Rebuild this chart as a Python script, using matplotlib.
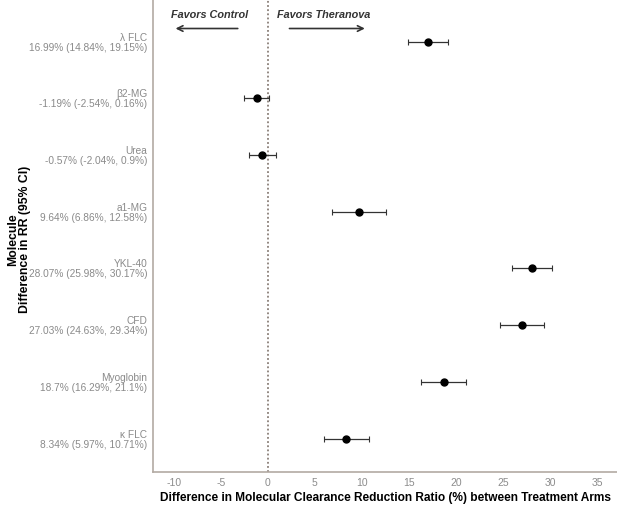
import matplotlib
matplotlib.use("Agg")
import matplotlib.pyplot as plt

plt.rcParams['font.family'] = ['Liberation Sans', 'DejaVu Sans']

molecules = ["λ FLC", "β2-MG", "Urea", "a1-MG", "YKL-40", "CFD", "Myoglobin", "κ FLC"]
est = [16.99, -1.19, -0.57, 9.64, 28.07, 27.03, 18.7, 8.34]
lo = [14.84, -2.54, -2.04, 6.86, 25.98, 24.63, 16.29, 5.97]
hi = [19.15, 0.16, 0.9, 12.58, 30.17, 29.34, 21.1, 10.71]
xticks = [-10, -5, 0, 5, 10, 15, 20, 25, 30, 35]

fig = plt.figure(figsize=(6.17, 5.06), dpi=100)
ax = fig.add_axes([0.248, 0.066, 0.752, 0.934])

n = len(molecules)
for i, (e, l, h) in enumerate(zip(est, lo, hi)):
    ax.errorbar(e, i, xerr=[[e - l], [h - e]], fmt='o', color='black',
                ecolor='#333333', elinewidth=0.9, capsize=2.5, capthick=0.8,
                markersize=5, zorder=3)

ax.axvline(0, color='#8a7f78', linestyle=(0, (1, 1.3)), linewidth=1.3, zorder=1)

ax.set_xlim(-12.2, 37.1)
ax.set_ylim(n - 1 + 0.58, -0.75)
ax.set_xticks(xticks)
ax.set_xticklabels([str(t) for t in xticks], color='#8c8c8c', fontsize=7.5)
ax.tick_params(axis='x', length=0, pad=4)
ax.set_yticks([])
for s in ['top', 'right']:
    ax.spines[s].set_visible(False)
for s in ['left', 'bottom']:
    ax.spines[s].set_color('#b3aaa3')
    ax.spines[s].set_linewidth(1.2)

labels = [f"{m}\n{e}% ({l}%, {h}%)" for m, e, l, h in zip(molecules, est, lo, hi)]
for i, lab in enumerate(labels):
    ax.text(-12.8, i, lab, ha='right', va='center', fontsize=7.3,
            color='#8a8a8a', linespacing=1.0)

ax.set_xlabel("Difference in Molecular Clearance Reduction Ratio (%) between Treatment Arms",
              fontsize=8.6, fontweight='bold', labelpad=2.5)

fig.text(0.031, 0.526, "Molecule\nDifference in RR (95% CI)", rotation=90,
         ha='center', va='center', fontsize=8.8, fontweight='bold', linespacing=1.05)

# direction annotations
ax.text(-10.3, -0.48, "Favors Control", fontsize=7.8, fontstyle='italic',
        fontweight='bold', color='#333333', ha='left', va='center')
ax.text(1.0, -0.48, "Favors Theranova", fontsize=7.8, fontstyle='italic',
        fontweight='bold', color='#333333', ha='left', va='center')
ax.annotate("", xy=(-10.1, -0.23), xytext=(-2.9, -0.23),
            arrowprops=dict(arrowstyle='->', color='#333333', lw=1.2))
ax.annotate("", xy=(10.6, -0.23), xytext=(2.0, -0.23),
            arrowprops=dict(arrowstyle='->', color='#333333', lw=1.2))

fig.savefig("out.png", dpi=100, facecolor='white')
